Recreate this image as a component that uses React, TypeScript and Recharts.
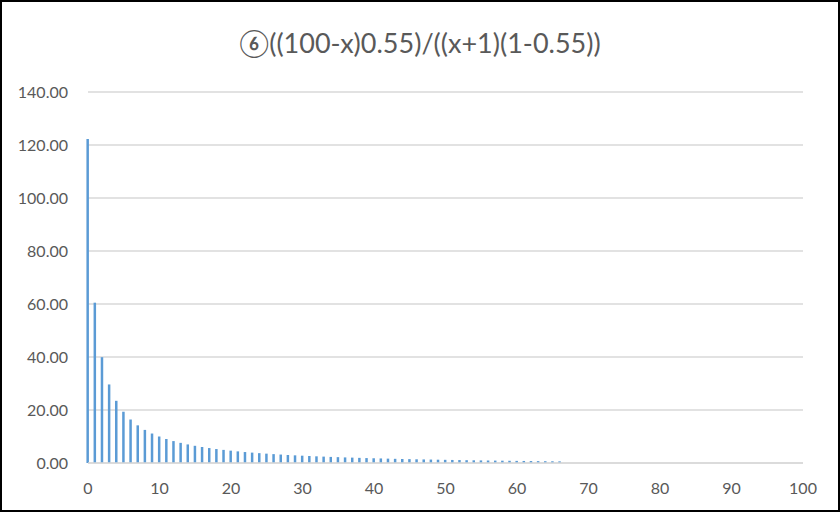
import React from "react";
import { ComposedChart, Bar, XAxis, YAxis, CartesianGrid } from "recharts";

const xValues: number[] = [
  0, 1, 2, 3, 4, 5, 6, 7, 8, 9, 10, 11, 12, 13, 14, 15, 16, 17, 18, 19, 20,
  21, 22, 23, 24, 25, 26, 27, 28, 29, 30, 31, 32, 33, 34, 35, 36, 37, 38, 39, 40,
  41, 42, 43, 44, 45, 46, 47, 48, 49, 50, 51, 52, 53, 54, 55, 56, 57, 58, 59, 60,
  61, 62, 63, 64, 65, 66,
];
const yValues: number[] = [
  122.22, 60.5, 39.93, 29.64, 23.47, 19.35, 16.41, 14.21, 12.49, 11.12, 10.0,
  9.06, 8.27, 7.6, 7.01, 6.49, 6.04, 5.64, 5.27, 4.95, 4.66,
  4.39, 4.14, 3.92, 3.72, 3.53, 3.35, 3.19, 3.03, 2.89, 2.76,
  2.64, 2.52, 2.41, 2.3, 2.21, 2.11, 2.03, 1.94, 1.86, 1.79,
  1.72, 1.65, 1.58, 1.52, 1.46, 1.4, 1.35, 1.3, 1.25, 1.2,
  1.15, 1.11, 1.06, 1.02, 0.98, 0.94, 0.91, 0.87, 0.84, 0.8,
  0.77, 0.74, 0.71, 0.68, 0.65, 0.62,
];
const xTicks: number[] = [0, 10, 20, 30, 40, 50, 60, 70, 80, 90, 100];
const yTicks: number[] = [0, 20, 40, 60, 80, 100, 120, 140];
const title = "⑥((100-x)0.55)/((x+1)(1-0.55))";

const data = xValues.map((x, i) => ({ x, y: yValues[i] }));

const FONT = "Lato, 'Open Sans', 'DejaVu Sans', sans-serif";

export default function App() {
  return (
    <div
      style={{
        position: "absolute",
        left: 0,
        top: 0,
        width: 840,
        height: 512,
        boxSizing: "border-box",
        border: "2px solid #000",
        background: "#fff",
        fontFamily: FONT,
      }}
    >
      <div
        style={{
          position: "absolute",
          left: 0,
          top: 24,
          width: 836,
          textAlign: "center",
          fontSize: 27,
          color: "#595959",
          fontFamily: FONT,
        }}
      >
        {title}
      </div>
      <ComposedChart
        width={836}
        height={508}
        data={data}
        margin={{ top: 90, right: 35, left: 0, bottom: 0 }}
      >
        <CartesianGrid vertical={false} stroke="#D9D9D9" strokeWidth={1.5} />
        <XAxis
          dataKey="x"
          type="number"
          domain={[0, 100]}
          ticks={xTicks}
          interval={0}
          height={47}
          tickLine={false}
          tickSize={0}
          tickMargin={20}
          axisLine={{ stroke: "#D9D9D9", strokeWidth: 1.5 }}
          tick={{ fill: "#595959", fontSize: 16, fontFamily: FONT }}
        />
        <YAxis
          type="number"
          domain={[0, 140]}
          ticks={yTicks}
          interval={0}
          width={86}
          axisLine={false}
          tickLine={false}
          tickSize={0}
          tickMargin={20}
          tickFormatter={(v: number) => v.toFixed(2)}
          tick={{ fill: "#595959", fontSize: 16, fontFamily: FONT }}
        />
        <Bar dataKey="y" fill="#5B9BD5" barSize={2.5} isAnimationActive={false} />
      </ComposedChart>
    </div>
  );
}
